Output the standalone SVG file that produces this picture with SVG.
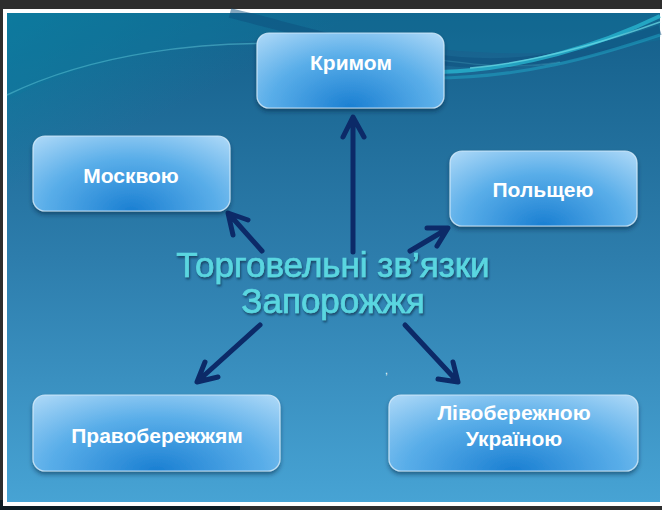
<svg xmlns="http://www.w3.org/2000/svg" width="662" height="510" viewBox="0 0 662 510">
<defs>
<style>
.box{stroke:#d8eefc;stroke-width:1.2;stroke-opacity:0.8;filter:url(#sh)}
.lbl{font-family:"Liberation Sans",Arial,sans-serif;font-weight:bold;font-size:21px;fill:#ffffff;text-anchor:middle}
.title{font-family:"Liberation Sans",Arial,sans-serif;font-size:35px;fill:#5ad6e0;stroke:#5ad6e0;stroke-width:0.7;text-anchor:middle;filter:url(#tsh)}
.arr{fill:none;stroke:#0c2a68;stroke-width:5;stroke-linecap:round;stroke-linejoin:round}
</style>
<linearGradient id="bg" x1="0" y1="0" x2="0" y2="1">
<stop offset="0" stop-color="#145f8a"/>
<stop offset="0.5" stop-color="#2d7dac"/>
<stop offset="1" stop-color="#47a3d4"/>
</linearGradient>
<linearGradient id="tl" x1="0" y1="0" x2="1" y2="0.6">
<stop offset="0" stop-color="#0a86a6" stop-opacity="0.7"/>
<stop offset="0.4" stop-color="#0a86a6" stop-opacity="0"/>
</linearGradient>
<radialGradient id="bx" cx="0.5" cy="1" r="0.8" gradientTransform="translate(0.5 1) scale(1 1.6) translate(-0.5 -1)">
<stop offset="0" stop-color="#1a7fd2"/>
<stop offset="0.55" stop-color="#5aaee9"/>
<stop offset="1" stop-color="#b0daf8"/>
</radialGradient>
<filter id="sh" x="-10%" y="-10%" width="120%" height="130%">
<feDropShadow dx="0" dy="3" stdDeviation="2" flood-color="#06203a" flood-opacity="0.5"/>
</filter>
<filter id="tsh" x="-5%" y="-20%" width="110%" height="150%">
<feDropShadow dx="1" dy="2" stdDeviation="1.2" flood-color="#0b3050" flood-opacity="0.75"/>
</filter>
</defs>
<rect x="0" y="0" width="662" height="510" fill="#2e2e2e"/>
<rect x="0" y="500" width="240" height="10" fill="#0c1c24"/>
<rect x="3" y="9" width="659" height="497" fill="#ffffff"/>
<g id="slide">
<rect x="7" y="13" width="653" height="489" fill="url(#bg)"/>
<rect x="7" y="13" width="653" height="200" fill="url(#tl)"/>
<path d="M7,100 C80,60 180,40 300,40 C420,40 500,70 660,40 L660,13 L7,13 Z" fill="#0c7aa0" opacity="0.3"/>
<path d="M7,95 C90,55 200,38 320,45 C420,52 480,75 560,62" fill="none" stroke="#5cc6d8" stroke-width="1.5" opacity="0.5"/>
<path d="M230,13 C300,30 380,55 460,62 C540,68 600,50 660,30" fill="none" stroke="#0e4f7e" stroke-width="10" opacity="0.5"/>
<path d="M440,72 C520,70 600,45 660,16" fill="none" stroke="#2bc0d8" stroke-width="4" opacity="0.7"/>
<path d="M470,68 C540,62 610,40 660,22" fill="none" stroke="#6fe0ea" stroke-width="1.5" opacity="0.7"/>
<path d="M420,78 C520,80 600,55 660,35" fill="none" stroke="#1fa8c8" stroke-width="3" opacity="0.5"/>
</g>
<g id="connectors">
<path class="arr" d="M353,252 L353,118 M343,137 L353,117 L364,137"/>
<path class="arr" d="M262,251 L229,214 M233,235 L228,213 L248,220"/>
<path class="arr" d="M410,251 L447,229 M427,228 L448,228 L437,246"/>
<path class="arr" d="M260,325 L198,381 M205,362 L197,382 L218,377"/>
<path class="arr" d="M405,325 L457,381 M453,362 L458,382 L438,379"/>
</g>
<g id="node-krym">
<rect class="box" x="257" y="33" width="187" height="75" rx="12" fill="url(#bx)"/>
<text class="lbl" x="351" y="70">Кримом</text>
</g>
<g id="node-moskva">
<rect class="box" x="33" y="136" width="197" height="75" rx="12" fill="url(#bx)"/>
<text class="lbl" x="131" y="183">Москвою</text>
</g>
<g id="node-polshcha">
<rect class="box" x="450" y="151" width="187" height="75" rx="12" fill="url(#bx)"/>
<text class="lbl" x="543" y="197">Польщею</text>
</g>
<g id="node-pravo">
<rect class="box" x="33" y="395" width="247" height="76" rx="12" fill="url(#bx)"/>
<text class="lbl" x="157" y="443">Правобережжям</text>
</g>
<g id="node-livo">
<rect class="box" x="389" y="395" width="249" height="76" rx="12" fill="url(#bx)"/>
<text class="lbl" x="514" y="420">Лівобережною</text>
<text class="lbl" x="514" y="446">Україною</text>
</g>
<g id="title">
<text class="title" x="333" y="277">Торговельні зв’язки</text>
<text class="title" x="333" y="313">Запорожжя</text>
</g>
<text x="385" y="374" font-family="Liberation Sans, sans-serif" font-size="10" fill="#ffffff">,</text>
</svg>
